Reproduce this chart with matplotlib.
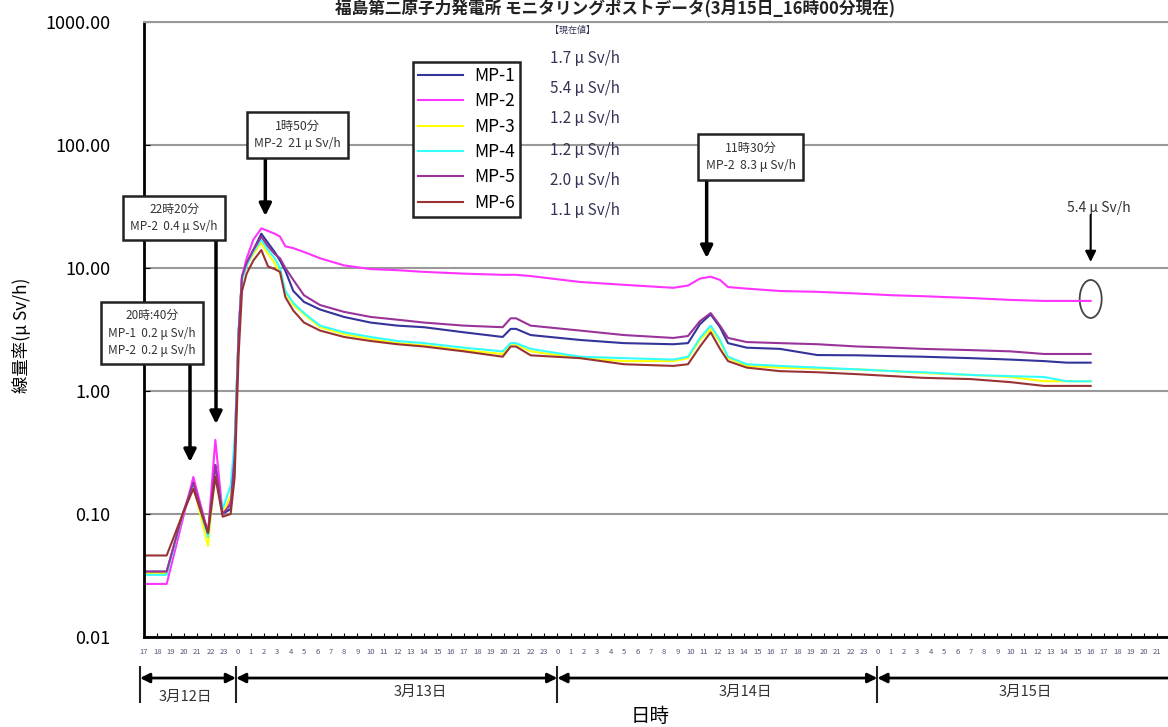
import numpy as np
import matplotlib
matplotlib.use("Agg")
import matplotlib.pyplot as plt
from matplotlib.patches import Ellipse
from matplotlib.transforms import blended_transform_factory, ScaledTranslation

plt.rcParams['font.family'] = ['Noto Sans CJK JP', 'DejaVu Sans']

# hours counted from 3/12 0:00
hours = [17, 18.7, 19.9, 20.7, 21.8, 22.35, 22.9, 23.5, 23.8, 24.1, 24.35, 24.7, 25.2, 25.8,
         26.3, 26.8, 27.2, 27.6, 28.2, 29.0, 30.2, 32.0, 34.0, 36.0, 38.0, 41.0, 43.9, 44.5,
         44.9, 46.0, 49.7, 53.0, 56.7, 57.8, 58.7, 59.5, 60.2, 60.8, 62.2, 64.7, 67.5, 70.5,
         73.2, 75.4, 79.0, 82.0, 84.5, 86.2, 88.0]

mp1 = [0.034, 0.034, 0.10, 0.17, 0.07, 0.25, 0.10, 0.11, 0.3, 3.0, 8.5, 11, 14, 19,
       16, 13.5, 11.5, 9.5, 6.5, 5.3, 4.6, 4.0, 3.6, 3.4, 3.3, 3.0, 2.75, 3.2,
       3.2, 2.85, 2.6, 2.45, 2.4, 2.45, 3.5, 4.2, 3.3, 2.45, 2.25, 2.2, 1.96, 1.95,
       1.92, 1.9, 1.85, 1.8, 1.75, 1.7, 1.7]
mp2 = [0.027, 0.027, 0.09, 0.20, 0.07, 0.40, 0.10, 0.13, 0.35, 3.0, 8.5, 12, 17, 21,
       20, 19, 18, 15, 14.5, 13.5, 12, 10.5, 9.8, 9.6, 9.3, 9.0, 8.8, 8.8,
       8.8, 8.6, 7.7, 7.3, 6.9, 7.2, 8.2, 8.5, 8.0, 7.0, 6.8, 6.5, 6.4, 6.2,
       6.0, 5.9, 5.7, 5.5, 5.4, 5.4, 5.4]
mp3 = [0.033, 0.033, 0.10, 0.17, 0.055, 0.22, 0.10, 0.14, 0.35, 3.0, 8.0, 10.5, 13, 16,
       13, 11, 9, 6.3, 5.0, 4.2, 3.3, 2.9, 2.65, 2.45, 2.35, 2.15, 2.0, 2.4,
       2.4, 2.1, 1.85, 1.75, 1.75, 1.85, 2.6, 3.2, 2.5, 1.85, 1.6, 1.55, 1.52, 1.5,
       1.45, 1.4, 1.35, 1.3, 1.2, 1.2, 1.2]
mp4 = [0.032, 0.032, 0.10, 0.17, 0.065, 0.22, 0.11, 0.17, 0.4, 3.2, 8.0, 10.5, 13.5, 17,
       14, 12, 10, 6.5, 5.2, 4.3, 3.4, 3.0, 2.75, 2.55, 2.45, 2.25, 2.1, 2.45,
       2.45, 2.2, 1.9, 1.85, 1.8, 1.9, 2.7, 3.4, 2.6, 1.9, 1.65, 1.6, 1.55, 1.5,
       1.45, 1.42, 1.35, 1.32, 1.3, 1.2, 1.2]
mp5 = [0.034, 0.034, 0.10, 0.18, 0.07, 0.25, 0.10, 0.12, 0.3, 3.0, 8.5, 11, 14, 18,
       15, 13, 12, 10, 8, 6, 5.0, 4.4, 4.0, 3.8, 3.6, 3.4, 3.3, 3.9,
       3.9, 3.4, 3.1, 2.85, 2.7, 2.8, 3.7, 4.3, 3.4, 2.7, 2.5, 2.45, 2.4, 2.3,
       2.25, 2.2, 2.15, 2.1, 2.0, 2.0, 2.0]
mp6 = [0.046, 0.046, 0.10, 0.16, 0.07, 0.20, 0.095, 0.10, 0.2, 2.0, 6.5, 9, 11.5, 14,
       10.3, 9.8, 9.3, 5.8, 4.5, 3.6, 3.1, 2.75, 2.55, 2.4, 2.3, 2.1, 1.9, 2.3,
       2.3, 1.95, 1.85, 1.65, 1.6, 1.65, 2.3, 3.0, 2.2, 1.75, 1.55, 1.45, 1.42, 1.37,
       1.32, 1.28, 1.25, 1.18, 1.1, 1.1, 1.1]

names = ['MP-1', 'MP-2', 'MP-3', 'MP-4', 'MP-5', 'MP-6']
colors = ['#333399', '#ff33ff', '#ffff00', '#33ffff', '#993399', '#993333']
current = ['1.7 μ Sv/h', '5.4 μ Sv/h', '1.2 μ Sv/h', '1.2 μ Sv/h', '2.0 μ Sv/h', '1.1 μ Sv/h']
days = ['3月12日', '3月13日', '3月14日', '3月15日']

fig = plt.figure(figsize=(11.68, 7.27), dpi=100)
ax = fig.add_axes([144 / 1168, 1 - 637 / 727, 1 - 144 / 1168, 615 / 727])

for vals, name, c in zip([mp1, mp2, mp3, mp4, mp5, mp6], names, colors):
    ax.plot(hours, vals, color=c, lw=1.5, label=name)

ax.set_yscale('log')
ax.set_ylim(0.01, 1000)
ax.set_xlim(17, 93.8)
ax.set_yticks([0.01, 0.1, 1, 10, 100, 1000])
ax.set_yticklabels(['%.2f' % v for v in [0.01, 0.1, 1, 10, 100, 1000]], fontsize=13)
ax.yaxis.set_minor_locator(matplotlib.ticker.NullLocator())
ax.grid(axis='y', color='#999999', lw=1.5)
ax.set_axisbelow(True)
tk = list(range(17, 94))
ax.set_xticks(tk)
ax.set_xticklabels([str(h % 24) for h in tk], fontsize=5.5, color='#555577')
ax.tick_params(axis='x', direction='in', length=3, pad=8)
ax.tick_params(axis='y', direction='in', length=4, pad=24)
ax.spines['right'].set_visible(False)
ax.spines['top'].set_color('#999999')
ax.spines['top'].set_linewidth(1.5)
ax.spines['left'].set_linewidth(2)
ax.spines['bottom'].set_linewidth(2)

ax.set_ylabel('線量率(μ Sv/h)', fontsize=12.5)
ax.yaxis.set_label_coords(-0.11, 0.49)
fig.text(650 / 1168, 1 - 716 / 727, '日時', fontsize=14, ha='center', va='center')
fig.text(615 / 1168, 1.0, '福島第二原子力発電所 モニタリングポストデータ(3月15日_16時00分現在)',
         fontsize=12, fontweight='bold', ha='center', va='top', color='#222222')

# day brackets
tr = blended_transform_factory(ax.transData, ax.transAxes)
edges = [16.7, 23.9, 48, 72, 96]
for i, d in enumerate(days):
    ax.annotate('', xy=(edges[i], -0.0667), xytext=(edges[i + 1], -0.0667), xycoords=tr,
                textcoords=tr, arrowprops=dict(arrowstyle='<|-|>', color='k', lw=2,
                                               shrinkA=0, shrinkB=0, mutation_scale=14))
for e in edges[:4]:
    ax.plot([e, e], [-0.049, -0.106], transform=tr, color='#222222', lw=1.5, clip_on=False)
label_x = [20.1, 37.7, 62.1, 83.1]
label_y = [-0.0976, -0.089, -0.089, -0.089]
for d, lx, ly in zip(days, label_x, label_y):
    ax.text(lx, ly, d, transform=tr, fontsize=10.5, ha='center', va='center', color='#333333')

# legend
leg = ax.legend(loc='upper left', bbox_to_anchor=(413 / 1168, 1 - 62 / 727),
                bbox_transform=fig.transFigure, borderaxespad=0, fontsize=12.5,
                handlelength=2.6, labelspacing=0.42, fancybox=False, framealpha=1,
                edgecolor='#222222', borderpad=0.3, handletextpad=0.6)
leg.get_frame().set_linewidth(1.8)

# current values
fig.text(550 / 1168, 1 - 30 / 727, '【現在値】', fontsize=6.5, ha='left', va='center', color='#333355')
for i, s in enumerate(current):
    yy = [58, 89, 119, 150, 181, 211][i]
    fig.text(550 / 1168, 1 - yy / 727, s, fontsize=11, ha='left', va='center', color='#333355')

# annotation boxes
bx = dict(boxstyle='square,pad=0.6', fc='white', ec='#222222', lw=1.8)
arr = dict(arrowstyle='-|>', color='k', lw=2.5, mutation_scale=18, shrinkA=0, shrinkB=0)
ax.text(17.6, 2.96, '20時:40分\nMP-1  0.2 μ Sv/h\nMP-2  0.2 μ Sv/h', fontsize=8.5, ha='center',
        va='center', bbox=bx, clip_on=False, zorder=5, linespacing=1.45, color='#333333')
ax.annotate('', xy=(20.45, 0.265), xytext=(20.45, 1.63), arrowprops=arr, zorder=4)
ax.text(19.25, 25.5, '22時20分\nMP-2  0.4 μ Sv/h', fontsize=8.5, ha='center', va='center',
        bbox=bx, zorder=5, linespacing=1.45, color='#333333')
ax.annotate('', xy=(22.4, 0.54), xytext=(22.4, 16.6), arrowprops=arr, zorder=4)
ax.text(28.5, 120.5, '1時50分\nMP-2  21 μ Sv/h', fontsize=8.8, ha='center', va='center',
        bbox=bx, zorder=5, linespacing=1.45, color='#333333')
ax.annotate('', xy=(26.1, 26.5), xytext=(26.1, 79.9), arrowprops=arr, zorder=4)
ax.text(62.5, 79.9, '11時30分\nMP-2  8.3 μ Sv/h', fontsize=8.8, ha='center', va='center',
        bbox=bx, zorder=5, linespacing=1.45, color='#333333')
ax.annotate('', xy=(59.2, 12.06), xytext=(59.2, 52.9), arrowprops=arr, zorder=4)
ax.text(88.6, 30.7, '5.4 μ Sv/h', fontsize=10, ha='center', va='center', color='#333333')
ax.annotate('', xy=(88.0, 11.2), xytext=(88.0, 27), arrowprops=dict(arrowstyle='-|>', color='k',
            lw=1.5, mutation_scale=16, shrinkA=0, shrinkB=0))
ell = Ellipse((0, 0), 0.22, 0.38, fill=False, ec='#444444', lw=1.3,
              transform=fig.dpi_scale_trans + ScaledTranslation(88.0, 5.6, ax.transData))
ax.add_patch(ell)

fig.savefig('out.png', dpi=100)
